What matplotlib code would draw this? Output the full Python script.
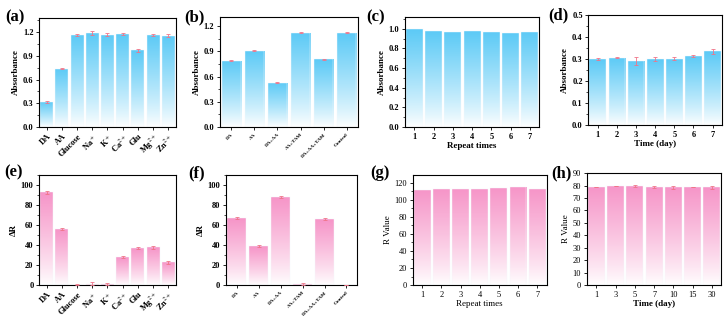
import numpy as np
import matplotlib
matplotlib.use('Agg')
import matplotlib.pyplot as plt
from matplotlib.colors import LinearSegmentedColormap
from matplotlib.ticker import AutoMinorLocator

plt.rcParams['font.family'] = ['Liberation Serif', 'DejaVu Serif']
plt.rcParams['mathtext.fontset'] = 'stix'

# --- data ---
ions = ['DA', 'AA', 'Glucose', 'Na$^+$', 'K$^+$', 'Ca$^{2+}$', 'Glu', 'Mg$^{2+}$', 'Zn$^{2+}$']
mix = ['DA', 'AA', 'DA+AA', 'AA+TAM', 'DA+AA+TAM', 'Control']
repeat = ['1', '2', '3', '4', '5', '6', '7']
days_d = ['1', '2', '3', '4', '5', '6', '7']
days_h = ['1', '3', '5', '7', '10', '15', '30']

abs_a = [0.32, 0.74, 1.165, 1.19, 1.17, 1.175, 0.97, 1.17, 1.155]
err_a = [0.01, 0.01, 0.015, 0.03, 0.015, 0.012, 0.015, 0.012, 0.02]
abs_b = [0.79, 0.91, 0.53, 1.125, 0.81, 1.125]
err_b = [0.006, 0.006, 0.01, 0.01, 0.006, 0.005]
abs_c = [0.995, 0.98, 0.97, 0.98, 0.97, 0.955, 0.97]
abs_d = [0.300, 0.307, 0.292, 0.300, 0.302, 0.316, 0.335]
err_d = [0.003, 0.003, 0.018, 0.010, 0.008, 0.004, 0.012]
dr_e = [93, 56, 0.5, 1.5, 0.8, 28, 37, 38, 23]
err_e = [1.5, 0.8, 0.3, 1.2, 1.0, 1.0, 1.0, 1.5, 1.5]
dr_f = [67, 39, 88, 1.0, 66, 0.2]
err_f = [1.2, 0.8, 1.2, 0.8, 0.8, 0.2]
r_g = [112, 113, 113, 113, 114, 115, 113]
r_h = [79, 80, 79.5, 78.5, 78.5, 79, 78.5]
err_h = [0, 0, 0.8, 0.8, 1.2, 0, 1.2]

BLUE = '#5ccaf6'
PINK = '#f695c8'
ERR = '#f07488'

fig = plt.figure(figsize=(7.28, 3.16), dpi=100)


def grad_bars(ax, labels, vals, color, errs=None, width=0.85, bold=True):
    x = np.arange(len(vals))
    bars = ax.bar(x, vals, width=width, color='none', edgecolor='#f4f8fb', lw=0.3, zorder=2)
    cmap = LinearSegmentedColormap.from_list('g', ['#ffffff', color])
    grad = np.linspace(0, 1, 256).reshape(-1, 1) ** 0.85
    for b in bars:
        x0, w, h = b.get_x(), b.get_width(), b.get_height()
        if h <= 0:
            continue
        im = ax.imshow(grad, cmap=cmap, origin='lower', aspect='auto',
                       extent=[x0, x0 + w, 0, h], zorder=1, interpolation='bilinear')
        im.set_clip_path(b)
    if errs is not None:
        ax.errorbar(x, vals, yerr=errs, fmt='none', ecolor=ERR, elinewidth=0.6,
                    capsize=1.5, capthick=0.6, zorder=3)
    ax.set_xlim(-0.5, len(vals) - 0.5)
    ax.set_xticks(x)
    ax.set_xticklabels(labels)
    w = 'bold' if bold else 'normal'
    for s in ax.spines.values():
        s.set_linewidth(0.8)
    ax.tick_params(axis='both', direction='out', length=2.5, width=0.6, labelsize=6, pad=1.5)
    ax.tick_params(axis='y', which='minor', direction='out', length=1.5, width=0.5)
    ax.tick_params(axis='x', which='minor', bottom=False)
    ax.yaxis.set_minor_locator(AutoMinorLocator(2))
    for t in ax.get_xticklabels() + ax.get_yticklabels():
        t.set_fontweight(w)
    return bars


def panel_label(txt, x, y):
    fig.text(x / 728, 1 - y / 316, txt, fontsize=12, fontweight='bold', va='center', ha='left')


# (a)
ax = fig.add_axes([0.0536, 0.598, 0.188, 0.345])
grad_bars(ax, ions, abs_a, BLUE, err_a)
ax.set_ylim(0, 1.38)
ax.set_yticks([0, 0.3, 0.6, 0.9, 1.2])
ax.set_yticklabels(['0.0', '0.3', '0.6', '0.9', '1.2'])
ax.set_ylabel('Absorbance', fontsize=6.5, fontweight='bold', labelpad=2)
plt.setp(ax.get_xticklabels(), rotation=45, ha='right', rotation_mode='anchor')
panel_label('(a)', 5, 17)

# (b)
ax = fig.add_axes([0.302, 0.598, 0.190, 0.348])
grad_bars(ax, mix, abs_b, BLUE, err_b)
ax.set_ylim(0, 1.31)
ax.set_yticks([0, 0.3, 0.6, 0.9, 1.2])
ax.set_yticklabels(['0.0', '0.3', '0.6', '0.9', '1.2'])
ax.set_ylabel('Absorbance', fontsize=6.5, fontweight='bold', labelpad=2)
plt.setp(ax.get_xticklabels(), rotation=45, ha='right', rotation_mode='anchor', fontsize=3.8)
panel_label('(b)', 184, 17)

# (c)
ax = fig.add_axes([0.556, 0.598, 0.185, 0.348])
grad_bars(ax, repeat, abs_c, BLUE, width=0.88)
ax.set_ylim(0, 1.12)
ax.set_yticks([0, 0.2, 0.4, 0.6, 0.8, 1.0])
ax.set_yticklabels(['0.0', '0.2', '0.4', '0.6', '0.8', '1.0'])
ax.set_ylabel('Absorbance', fontsize=6.5, fontweight='bold', labelpad=2)
ax.set_xlabel('Repeat times', fontsize=6.5, fontweight='bold', labelpad=1)
panel_label('(c)', 366, 17)

# (d)
ax = fig.add_axes([0.808, 0.604, 0.184, 0.348])
grad_bars(ax, days_d, abs_d, BLUE, err_d, width=0.88)
ax.set_ylim(0, 0.5)
ax.set_yticks([0, 0.1, 0.2, 0.3, 0.4, 0.5])
ax.set_yticklabels(['0.0', '0.1', '0.2', '0.3', '0.4', '0.5'])
ax.set_ylabel('Absorbance', fontsize=6.5, fontweight='bold', labelpad=2)
ax.set_xlabel('Time (day)', fontsize=6.5, fontweight='bold', labelpad=1)
panel_label('(d)', 548, 15)

# (e)
ax = fig.add_axes([0.0536, 0.098, 0.188, 0.348])
grad_bars(ax, ions, dr_e, PINK, err_e)
ax.set_ylim(0, 110)
ax.set_yticks([0, 20, 40, 60, 80, 100])
ax.set_ylabel('ΔR', fontsize=6.5, fontweight='bold', labelpad=2)
plt.setp(ax.get_xticklabels(), rotation=45, ha='right', rotation_mode='anchor')
panel_label('(e)', 4, 172)

# (f)
ax = fig.add_axes([0.310, 0.098, 0.181, 0.348])
grad_bars(ax, mix, dr_f, PINK, err_f)
ax.set_ylim(0, 110)
ax.set_yticks([0, 20, 40, 60, 80, 100])
ax.set_ylabel('ΔR', fontsize=6.5, fontweight='bold', labelpad=2)
plt.setp(ax.get_xticklabels(), rotation=45, ha='right', rotation_mode='anchor', fontsize=3.8)
panel_label('(f)', 188, 173)

# (g)
ax = fig.add_axes([0.567, 0.098, 0.184, 0.348])
grad_bars(ax, repeat, r_g, PINK, width=0.88, bold=False)
ax.set_ylim(0, 129)
ax.set_yticks([0, 20, 40, 60, 80, 100, 120])
ax.set_ylabel('R Value', fontsize=6.5, labelpad=2)
ax.set_xlabel('Repeat times', fontsize=6.5, labelpad=1)
panel_label('(g)', 370, 173)

# (h)
ax = fig.add_axes([0.806, 0.098, 0.185, 0.354])
grad_bars(ax, days_h, r_h, PINK, err_h, width=0.88, bold=False)
ax.set_ylim(0, 90)
ax.set_yticks(np.arange(0, 91, 10))
ax.set_ylabel('R Value', fontsize=6.5, labelpad=2)
ax.set_xlabel('Time (day)', fontsize=6.5, fontweight='bold', labelpad=1)
ax.yaxis.set_minor_locator(AutoMinorLocator(1))
panel_label('(h)', 551, 173)

fig.savefig('out.png', dpi=100)
